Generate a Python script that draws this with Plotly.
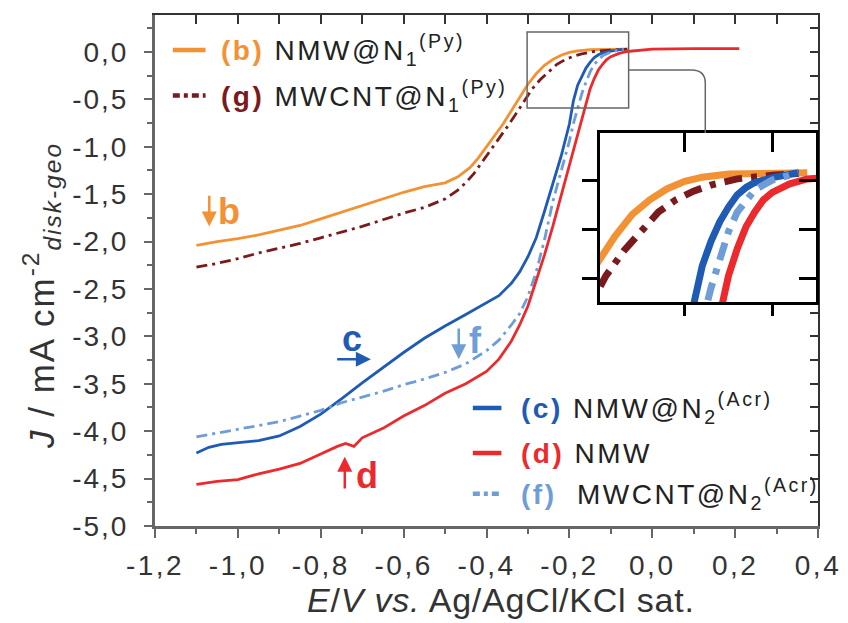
import plotly.graph_objects as go

# ---------------- data ----------------
b_x = [-1.10, -1.05, -1.00, -0.95, -0.90, -0.85, -0.80, -0.75, -0.70, -0.65, -0.60, -0.55, -0.50, -0.47,
       -0.44, -0.42, -0.40, -0.38, -0.36, -0.34, -0.32, -0.30, -0.28, -0.26, -0.24, -0.22, -0.20, -0.18,
       -0.15, -0.10, -0.06]
b_y = [-2.04, -2.00, -1.97, -1.93, -1.88, -1.83, -1.76, -1.69, -1.62, -1.55, -1.48, -1.42, -1.38, -1.32,
       -1.22, -1.12, -1.00, -0.88, -0.76, -0.62, -0.48, -0.34, -0.23, -0.14, -0.08, -0.035, -0.005, 0.012,
       0.025, 0.03, 0.03]

g_x = [-1.10, -1.05, -1.00, -0.95, -0.90, -0.85, -0.80, -0.75, -0.70, -0.65, -0.60, -0.55, -0.50, -0.47,
       -0.45, -0.43, -0.41, -0.39, -0.37, -0.35, -0.33, -0.31, -0.29, -0.27, -0.25, -0.23, -0.21, -0.19,
       -0.17, -0.14, -0.10, -0.06]
g_y = [-2.27, -2.23, -2.18, -2.12, -2.07, -2.02, -1.96, -1.90, -1.84, -1.77, -1.70, -1.64, -1.55, -1.46,
       -1.38, -1.28, -1.16, -1.04, -0.92, -0.79, -0.66, -0.52, -0.39, -0.29, -0.21, -0.13, -0.08, -0.045,
       -0.02, 0.005, 0.02, 0.03]

c_x = [-1.10, -1.07, -1.04, -1.00, -0.95, -0.90, -0.85, -0.80, -0.75, -0.70, -0.65, -0.60, -0.55, -0.50,
       -0.45, -0.40, -0.37, -0.34, -0.32, -0.30, -0.28, -0.26, -0.24, -0.22, -0.20, -0.19, -0.18, -0.17,
       -0.16, -0.15, -0.14, -0.13, -0.12, -0.10, -0.07]
c_y = [-4.23, -4.17, -4.14, -4.12, -4.10, -4.05, -3.95, -3.82, -3.66, -3.49, -3.33, -3.17, -3.02, -2.89,
       -2.77, -2.65, -2.57, -2.44, -2.32, -2.16, -1.96, -1.68, -1.40, -1.10, -0.76, -0.51, -0.35, -0.25,
       -0.17, -0.11, -0.06, -0.03, -0.01, 0.01, 0.03]

f_x = [-1.10, -1.05, -1.00, -0.95, -0.90, -0.85, -0.80, -0.75, -0.70, -0.65, -0.60, -0.55, -0.50, -0.45,
       -0.40, -0.37, -0.34, -0.32, -0.30, -0.28, -0.26, -0.24, -0.22, -0.20, -0.19, -0.18, -0.17, -0.16,
       -0.15, -0.14, -0.13, -0.12, -0.10, -0.07]
f_y = [-4.06, -4.02, -3.98, -3.94, -3.90, -3.84, -3.78, -3.70, -3.64, -3.58, -3.51, -3.45, -3.38, -3.29,
       -3.15, -3.04, -2.88, -2.76, -2.58, -2.32, -1.98, -1.58, -1.26, -0.94, -0.75, -0.58, -0.44, -0.32,
       -0.21, -0.13, -0.08, -0.04, 0.00, 0.03]

d_x = [-1.10, -1.05, -1.00, -0.95, -0.90, -0.85, -0.80, -0.76, -0.74, -0.72, -0.70, -0.65, -0.60, -0.55,
       -0.50, -0.45, -0.40, -0.37, -0.34, -0.32, -0.30, -0.28, -0.26, -0.24, -0.22, -0.20, -0.18, -0.16,
       -0.15, -0.14, -0.13, -0.12, -0.11, -0.10, -0.08, -0.06, -0.04, 0.00, 0.10, 0.21]
d_y = [-4.56, -4.53, -4.51, -4.45, -4.40, -4.34, -4.24, -4.16, -4.13, -4.16, -4.07, -3.97, -3.84, -3.73,
       -3.60, -3.50, -3.37, -3.24, -3.05, -2.88, -2.68, -2.42, -2.14, -1.84, -1.52, -1.20, -0.86, -0.54,
       -0.39, -0.28, -0.19, -0.13, -0.08, -0.05, -0.015, 0.005, 0.015, 0.03, 0.035, 0.035]

# axis / tick settings
x_range = [-1.2, 0.4]
y_range = [-5.0, 0.39]
x_ticks = [-1.2, -1.0, -0.8, -0.6, -0.4, -0.2, 0.0, 0.2, 0.4]
x_tick_labels = ["-1,2", "-1,0", "-0,8", "-0,6", "-0,4", "-0,2", "0,0", "0,2", "0,4"]
y_ticks = [0.0, -0.5, -1.0, -1.5, -2.0, -2.5, -3.0, -3.5, -4.0, -4.5, -5.0]
y_tick_labels = ["0,0", "-0,5", "-1,0", "-1,5", "-2,0", "-2,5", "-3,0", "-3,5", "-4,0", "-4,5", "-5,0"]
inset_x_range = [-0.297, -0.05]
inset_y_range = [-0.498, 0.192]
inset_x_ticks = [-0.2, -0.1]
inset_y_ticks = [0.0, -0.2, -0.4]
zoom_box_x = [-0.302, -0.057]
zoom_box_y = [-0.59, 0.21]

ORANGE = "#F39234"
MAROON = "#7A1A1C"
BLUE = "#1F5BB5"
LBLUE = "#6E9DD8"
RED = "#EC2A2E"
TXT = "#222222"
FONT = "Liberation Sans, Arial, sans-serif"
DASHDOT = "11px,5px,3px,5px"
DASHDOT_IN = "18px,9px,6px,9px"


def spaced(t, px):
    return f'<span style="letter-spacing:{px}px">{t}</span>'


series = [
    (b_x, b_y, ORANGE, "solid"),
    (g_x, g_y, MAROON, DASHDOT),
    (c_x, c_y, BLUE, "solid"),
    (f_x, f_y, LBLUE, DASHDOT),
    (d_x, d_y, RED, "solid"),
]

fig = go.Figure()
for sx, sy, col, dash in series:
    fig.add_trace(go.Scatter(x=sx, y=sy, mode="lines", line=dict(color=col, width=2.8, dash=dash),
                             showlegend=False, hoverinfo="skip"))
for sx, sy, col, dash in series:
    fig.add_trace(go.Scatter(x=sx, y=sy, mode="lines", xaxis="x2", yaxis="y2",
                             line=dict(color=col, width=7, dash=("solid" if dash == "solid" else DASHDOT_IN)),
                             showlegend=False, hoverinfo="skip"))
# empty traces so the mirror axes are drawn
fig.add_trace(go.Scatter(x=[], y=[], xaxis="x3", yaxis="y", showlegend=False))
fig.add_trace(go.Scatter(x=[], y=[], xaxis="x", yaxis="y3", showlegend=False))
fig.add_trace(go.Scatter(x=[], y=[], xaxis="x4", yaxis="y2", showlegend=False))
fig.add_trace(go.Scatter(x=[], y=[], xaxis="x2", yaxis="y4", showlegend=False))

AXC = "#666666"
tickfont = dict(family=FONT, size=28, color="#333333")

# the page body has an 8px default margin, so the figure is sized/margined to compensate
fig.update_layout(
    width=840, height=615,
    margin=dict(l=147, r=21, t=7, b=97),
    paper_bgcolor="white", plot_bgcolor="white",
    font=dict(family=FONT, color=TXT),
    xaxis=dict(range=x_range, tickmode="array", tickvals=x_ticks,
               ticktext=[spaced(t, 2.5) for t in x_tick_labels], ticks="outside", ticklen=9,
               tickwidth=2, tickcolor=AXC, showline=True, linecolor=AXC, linewidth=3,
               showgrid=False, zeroline=False, tickfont=tickfont, ticklabelstandoff=3,
               ticklabeloverflow="allow",
               minor=dict(tickmode="linear", dtick=0.1, tick0=0, ticks="outside", ticklen=5, tickwidth=2,
                          tickcolor=AXC)),
    yaxis=dict(range=y_range, tickmode="array", tickvals=y_ticks,
               ticktext=[spaced(t, 2) for t in y_tick_labels], ticks="outside", ticklen=8,
               tickwidth=2, tickcolor=AXC, showline=True, linecolor=AXC, linewidth=3,
               showgrid=False, zeroline=False, tickfont=tickfont, ticklabelstandoff=10,
               minor=dict(tickmode="linear", dtick=0.25, tick0=0, ticks="outside", ticklen=5, tickwidth=2,
                          tickcolor=AXC)),
    xaxis3=dict(overlaying="x", anchor="y", side="top", range=x_range, dtick=0.1, tick0=0,
                ticks="inside", ticklen=9, tickwidth=1.5, tickcolor="#333", showticklabels=False,
                showline=True, linecolor="#333", linewidth=1.5, showgrid=False, zeroline=False),
    yaxis3=dict(overlaying="y", anchor="x", side="right", range=y_range, dtick=0.25, tick0=0,
                ticks="inside", ticklen=8, tickwidth=1.5, tickcolor="#333", showticklabels=False,
                showline=True, linecolor="#333", linewidth=1.5, showgrid=False, zeroline=False),
    xaxis2=dict(domain=[0.671, 0.997], anchor="y2", range=inset_x_range, tickvals=inset_x_ticks,
                ticks="outside", ticklen=11, tickwidth=3, tickcolor="black", showticklabels=False,
                showline=True, linecolor="black", linewidth=3, showgrid=False, zeroline=False),
    yaxis2=dict(domain=[0.438, 0.769], anchor="x2", range=inset_y_range, tickvals=inset_y_ticks,
                ticks="outside", ticklen=15, tickwidth=3, tickcolor="black", showticklabels=False,
                showline=True, linecolor="black", linewidth=3, showgrid=False, zeroline=False),
    xaxis4=dict(overlaying="x2", anchor="y2", side="top", range=inset_x_range, tickvals=inset_x_ticks,
                ticks="inside", ticklen=19, tickwidth=3, tickcolor="black", showticklabels=False,
                showline=True, linecolor="black", linewidth=3, showgrid=False, zeroline=False),
    yaxis4=dict(overlaying="y2", anchor="x2", side="right", range=inset_y_range, tickvals=inset_y_ticks,
                ticks="inside", ticklen=17, tickwidth=3, tickcolor="black", showticklabels=False,
                showline=True, linecolor="black", linewidth=3, showgrid=False, zeroline=False),
)

# zoom rectangle and connector
fig.add_shape(type="rect", xref="x", yref="y", x0=zoom_box_x[0], x1=zoom_box_x[1],
              y0=zoom_box_y[0], y1=zoom_box_y[1], line=dict(color="#666", width=1.5))
fig.add_shape(type="path", xref="x", yref="y",
              path="M -0.057,-0.19 L 0.095,-0.19 Q 0.128,-0.19 0.128,-0.33 L 0.128,-0.855",
              line=dict(color="#666", width=1.5))

# axis titles (annotations for exact placement)
fig.add_annotation(xref="paper", yref="paper", x=0.522, y=-0.186, showarrow=False,
                   text=spaced("<i>E</i>/<i>V vs.</i> Ag/AgCl/KCl sat.", 0.8),
                   font=dict(family=FONT, size=34, color="#333"))
fig.add_annotation(xref="paper", yref="paper", x=-0.212, y=0.452, textangle=-90, showarrow=False,
                   text=spaced("<i>J</i> / mA cm<sup>-2</sup><sub><i>disk-geo</i></sub>", 2),
                   font=dict(family=FONT, size=35, color="#333"))

# legend: lines + text
leg_font = dict(family=FONT, size=28, color=TXT)
legend_items = [
    (-1.157, -1.078, 0.02, ORANGE, "solid", "(b)", " NMW@N<sub>1</sub><sup>(Py)</sup>", -1.045),
    (-1.157, -1.078, -0.46, MAROON, "7px,4px,4px,4px", "(g)", " MWCNT@N<sub>1</sub><sup>(Py)</sup>", -1.045),
    (-0.433, -0.364, -3.755, BLUE, "solid", "(c)", " NMW@N<sub>2</sub><sup>(Acr)</sup>", -0.321),
    (-0.433, -0.364, -4.23, RED, "solid", "(d)", " NMW", -0.321),
    (-0.433, -0.364, -4.66, LBLUE, "7px,4px,4px,4px", "(f)", "  MWCNT@N<sub>2</sub><sup>(Acr)</sup>", -0.321),
]
for lx0, lx1, ly, lc, ldash, tag, label, tx in legend_items:
    fig.add_shape(type="line", xref="x", yref="y", x0=lx0, x1=lx1, y0=ly, y1=ly,
                  line=dict(color=lc, width=4.5, dash=ldash))
    fig.add_annotation(xref="x", yref="y", x=tx, y=ly, xanchor="left", yanchor="middle", showarrow=False,
                       text=spaced(f'<b><span style="color:{lc}">{tag}</span></b>{label}', 2.5), font=leg_font)

# curve labels with arrows
arrows = [
    # (head_x, head_y, tail_x, tail_y, color)
    (-1.069, -1.84, -1.069, -1.50, ORANGE),
    (-0.679, -3.24, -0.764, -3.24, BLUE),
    (-0.467, -3.24, -0.467, -2.90, LBLUE),
    (-0.742, -4.27, -0.742, -4.62, RED),
]
for hx, hy, tx_, ty, col in arrows:
    fig.add_annotation(xref="x", yref="y", x=hx, y=hy, ax=tx_, ay=ty, axref="x", ayref="y", text="",
                       showarrow=True, arrowhead=2, arrowsize=1.2, arrowwidth=2.5, arrowcolor=col)
labels = [
    (-1.021, -1.68, "b", ORANGE),
    (-0.724, -3.02, "c", BLUE),
    (-0.426, -3.04, "f", LBLUE),
    (-0.688, -4.47, "d", RED),
]
for lx, ly, t, col in labels:
    fig.add_annotation(xref="x", yref="y", x=lx, y=ly, text=f"<b>{t}</b>", showarrow=False,
                       font=dict(family=FONT, size=36, color=col))

fig.write_html("out.html")
